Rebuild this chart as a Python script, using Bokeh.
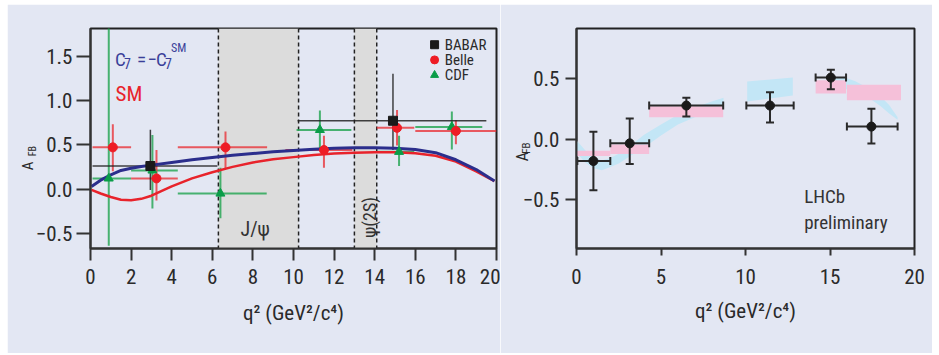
import math
from bokeh.plotting import figure
from bokeh.layouts import row
from bokeh.models import (Label, Range1d, ColumnDataSource, Whisker, TeeHead,
                          FixedTicker, Span, BoxAnnotation, LinearAxis)
from bokeh.core.properties import value
from bokeh.embed import file_html
from bokeh.resources import INLINE

# ---------------- data ----------------
# theory curves, left panel
q_curve = [0.05, 0.5, 1, 1.5, 2, 2.5, 3, 4, 5, 6, 7, 8, 9, 10, 11, 12, 13, 14,
           15, 16, 17, 18, 19, 19.9]
sm_afb = [-0.01, -0.05, -0.09, -0.12, -0.125, -0.11, -0.075, 0.03, 0.12, 0.19,
          0.25, 0.30, 0.335, 0.36, 0.385, 0.40, 0.41, 0.415, 0.415, 0.405, 0.375,
          0.31, 0.2, 0.09]
flip_afb = [0.03, 0.10, 0.16, 0.21, 0.235, 0.255, 0.27, 0.30, 0.33, 0.355,
            0.38, 0.40, 0.42, 0.435, 0.45, 0.46, 0.465, 0.465, 0.46, 0.445,
            0.41, 0.33, 0.22, 0.09]

babar_q = [2.95, 14.9]
babar_lo = [0.1, 10.2]
babar_hi = [6.25, 19.5]
babar_afb = [0.26, 0.77]
babar_ep = [0.41, 0.53]
babar_em = [0.27, 0.33]

belle_q = [1.1, 3.25, 6.65, 11.5, 15.1, 18.0]
belle_lo = [0.1, 2.0, 4.3, 9.6, 14.1, 16.0]
belle_hi = [2.0, 4.3, 8.7, 12.9, 15.95, 20.0]
belle_afb = [0.47, 0.12, 0.47, 0.44, 0.69, 0.655]
belle_ep = [0.26, 0.32, 0.18, 0.16, 0.20, 0.12]
belle_em = [0.27, 0.25, 0.24, 0.20, 0.20, 0.15]

cdf_q = [0.9, 3.05, 6.4, 11.3, 15.2, 17.8]
cdf_lo = [0.1, 2.0, 4.3, 10.15, 14.1, 16.0]
cdf_hi = [2.0, 4.3, 8.68, 12.85, 15.95, 19.3]
cdf_afb = [0.12, 0.21, -0.05, 0.667, 0.42, 0.70]
cdf_ep = [1.8, 0.40, 0.29, 0.22, 0.18, 0.175]
cdf_em = [0.76, 0.43, 0.28, 0.21, 0.16, 0.255]

veto_lo = [6.3, 13.0]
veto_hi = [10.25, 14.1]

# right panel
lhcb_q = [1.0, 3.15, 6.5, 11.45, 15.05, 17.45]
lhcb_lo = [0.05, 2.0, 4.3, 10.05, 14.15, 16.0]
lhcb_hi = [2.0, 4.3, 8.68, 12.85, 15.95, 19.0]
lhcb_afb = [-0.18, -0.035, 0.276, 0.276, 0.506, 0.103]
lhcb_ep = [0.24, 0.205, 0.065, 0.11, 0.065, 0.147]
lhcb_em = [0.24, 0.17, 0.09, 0.14, 0.095, 0.14]

smbin_lo = [0.0, 2.0, 4.3, 14.15, 16.0]
smbin_hi = [2.0, 4.3, 8.68, 15.95, 19.2]
smbin_bot = [-0.14, -0.122, 0.18, 0.376, 0.32]
smbin_top = [-0.095, -0.045, 0.27, 0.485, 0.447]

band1_q = [0.0, 0.5, 1.0, 1.5, 2.0, 2.5, 3.0, 3.5, 4.0, 5.0, 6.0, 7.0, 8.0, 8.7]
band1_lo = [-0.11, -0.19, -0.24, -0.257, -0.23, -0.20, -0.155, -0.11, -0.07,
            0.03, 0.12, 0.18, 0.23, 0.26]
band1_hi = [-0.01, -0.09, -0.15, -0.176, -0.155, -0.12, -0.07, -0.02, 0.035,
            0.12, 0.20, 0.26, 0.31, 0.34]
band2_q = [10.1, 12.8]
band2_lo = [0.31, 0.358]
band2_hi = [0.474, 0.506]
band3_q = [15.0, 16.0, 16.5, 17.0, 17.5, 18.0, 18.5, 19.0]
band3_lo = [0.43, 0.41, 0.39, 0.36, 0.32, 0.27, 0.21, 0.16]
band3_hi = [0.52, 0.50, 0.475, 0.44, 0.40, 0.35, 0.28, 0.18]

x_ticks_left = [0, 2, 4, 6, 8, 10, 12, 14, 16, 18, 20]
x_ticks_right = [0, 5, 10, 15, 20]
y_ticks_left = [-0.5, 0.0, 0.5, 1.0, 1.5]
y_ticks_right = [-0.5, 0.0, 0.5]
y_tick_text = {-0.5: "\u22120.5", 0.0: "0.0", 0.5: "0.5", 1.0: "1.0", 1.5: "1.5"}

# ---------------- style ----------------
FONT = "Liberation Sans Narrow, Roboto Condensed, Liberation Sans, sans-serif"
BG = "#e3e7f3"
TXT = "#2a2a2a"
NAVY = "#2b2e8c"
RED = "#e8232b"
GREEN = "#0a9d48"


def style_axes(p, xt, yt, xtick_len, ytick_len, xstand, ystand, lab_stand):
    p.xgrid.visible = False
    p.ygrid.visible = False
    p.background_fill_color = BG
    p.border_fill_color = BG
    p.outline_line_color = "#222222"
    p.outline_line_width = 2
    for ax, ticks, tl in ((p.xaxis[0], xt, xtick_len), (p.yaxis[0], yt, ytick_len)):
        ax.ticker = FixedTicker(ticks=ticks)
        ax.minor_tick_line_color = None
        ax.major_tick_in = 0
        ax.major_tick_out = tl
        ax.major_tick_line_width = 2
        ax.major_tick_line_color = "#333333"
        ax.axis_line_width = 2
        ax.axis_line_color = "#333333"
        ax.major_label_text_font = FONT
        ax.major_label_text_font_size = "21px"
        ax.major_label_text_color = TXT
        ax.axis_label_text_font = FONT
        ax.axis_label_text_font_size = "21px"
        ax.axis_label_text_font_style = "normal"
        ax.axis_label_text_color = TXT
    p.yaxis[0].major_label_overrides = {k: v for k, v in y_tick_text.items() if k in yt}
    p.xaxis[0].axis_label = "q\u00b2 (GeV\u00b2/c\u2074)"
    p.xaxis[0].major_label_standoff = xstand
    p.yaxis[0].major_label_standoff = ystand
    p.xaxis[0].axis_label_standoff = lab_stand


def screen_label(p, x, y, text, size, color, angle=0.0):
    p.add_layout(Label(x=x, y=y, x_units="screen", y_units="screen", text=text,
                       angle=angle, text_font=FONT, text_font_size=size,
                       text_color=color, text_baseline="alphabetic", text_align="left"))


def text_axis(at, text, size, standoff):
    # an axis with no line and no tick, used only to carry one rotated text
    return LinearAxis(ticker=FixedTicker(ticks=[at]), major_label_overrides={at: text},
                      major_label_orientation=math.pi / 2, major_tick_in=0, major_tick_out=0,
                      axis_line_color=None, major_tick_line_color=None,
                      minor_tick_line_color=None, major_label_standoff=standoff,
                      major_label_text_font=FONT, major_label_text_font_size=size,
                      major_label_text_color=TXT)


def afb_title(p, a_at, fb_at, a_size, fb_size, fb_stand, a_stand):
    p.left = [p.yaxis[0], text_axis(fb_at, "FB", fb_size, fb_stand),
              text_axis(a_at, "A", a_size, a_stand)]


# ---------------- left panel ----------------
p1 = figure(width=493, height=349, x_range=Range1d(0, 20), y_range=Range1d(-0.67, 1.81),
            output_backend="svg", toolbar_location=None,
            min_border_left=83, min_border_right=4, min_border_top=21, min_border_bottom=105)
p1.margin = (4, 0, 2, 7)
style_axes(p1, x_ticks_left, y_ticks_left, 12, 14, 8, 4, 14)

for lo, hi in zip(veto_lo, veto_hi):
    p1.add_layout(BoxAnnotation(left=lo, right=hi, fill_color="#dcdcdc", fill_alpha=1.0,
                                line_alpha=0, level="underlay"))
    for loc in (lo, hi):
        p1.add_layout(Span(location=loc, dimension="height", line_color="#222222",
                           line_width=1.5, line_dash="4 3", level="underlay"))


def xy_errors(p, q, lo, hi, y, ep, em, color, alpha, width):
    p.segment(x0=lo, x1=hi, y0=y, y1=y, line_color=color, line_alpha=alpha, line_width=width)
    p.segment(x0=q, x1=q, y0=[a - b for a, b in zip(y, em)], y1=[a + b for a, b in zip(y, ep)],
              line_color=color, line_alpha=alpha, line_width=width)


xy_errors(p1, cdf_q, cdf_lo, cdf_hi, cdf_afb, cdf_ep, cdf_em, "#1fa44f", 0.8, 2)
xy_errors(p1, belle_q, belle_lo, belle_hi, belle_afb, belle_ep, belle_em, "#e8343a", 0.8, 2)
xy_errors(p1, babar_q, babar_lo, babar_hi, babar_afb, babar_ep, babar_em, "#222222", 0.85, 1.5)

p1.line(q_curve, sm_afb, line_color=RED, line_width=2.5)
p1.line(q_curve, flip_afb, line_color=NAVY, line_width=3)

p1.scatter(cdf_q, cdf_afb, marker="triangle", size=9, fill_color=GREEN, line_color=GREEN)
p1.scatter(belle_q, belle_afb, marker="circle", size=9, fill_color="#ee1c25", line_color="#ee1c25")
p1.scatter(babar_q, babar_afb, marker="square", size=9, fill_color="#1a1a1a", line_color="#1a1a1a")

# manual legend (top right)
leg_names = ["BABAR", "Belle", "CDF"]
leg_markers = ["square", "circle", "triangle"]
leg_colors = ["#1a1a1a", "#ee1c25", GREEN]
leg_x, leg_y0, leg_dy = 16.95, 1.627, 0.171
for i, (nm, mk, cl) in enumerate(zip(leg_names, leg_markers, leg_colors)):
    yy = leg_y0 - i * leg_dy
    p1.scatter([leg_x], [yy], marker=mk, size=8, fill_color=cl, line_color=cl)
    p1.text(x=[leg_x + 0.5], y=[yy], text=[nm], text_font=value(FONT), text_font_size="15px",
            text_color=TXT, text_baseline="middle", text_align="left")

# curve labels
BLUE_TXT = "#3a3f99"
screen_label(p1, 24.5, 189.3, "C", "19px", BLUE_TXT)
screen_label(p1, 33.5, 185.3, "7", "14px", BLUE_TXT)
screen_label(p1, 46.5, 189.3, "=", "19px", BLUE_TXT)
screen_label(p1, 57, 189.3, "\u2212", "19px", BLUE_TXT)
screen_label(p1, 65.5, 189.3, "C", "19px", BLUE_TXT)
screen_label(p1, 74.5, 185.3, "7", "14px", BLUE_TXT)
screen_label(p1, 80.5, 200.7, "SM", "12px", BLUE_TXT)
screen_label(p1, 25, 155, "SM", "21px", RED)

p1.text(x=[7.39], y=[-0.448], text=["J/\u03c8"], text_font=value(FONT), text_font_size="20px",
        text_color="#333333", text_baseline="alphabetic", text_align="left")
p1.text(x=[13.74], y=[-0.548], text=["\u03c8(2S)"], angle=math.pi / 2, text_font=value(FONT),
        text_font_size="18px", text_color="#333333", text_baseline="alphabetic", text_align="left")

afb_title(p1, 0.31, 0.486, "15px", "10px", 0, -10)

# ---------------- right panel ----------------
p2 = figure(width=432, height=349, x_range=Range1d(0, 20), y_range=Range1d(-0.9, 0.91),
            output_backend="svg", toolbar_location=None,
            min_border_left=75, min_border_right=18, min_border_top=24, min_border_bottom=102)
p2.margin = (4, 7, 2, 0)
style_axes(p2, x_ticks_right, y_ticks_right, 7, 11, 13, 6, 12)

BAND = "#c3e6f6"
p2.varea(x=band1_q, y1=band1_lo, y2=band1_hi, fill_color=BAND)
p2.varea(x=band2_q, y1=band2_lo, y2=band2_hi, fill_color=BAND)
p2.varea(x=band3_q, y1=band3_lo, y2=band3_hi, fill_color=BAND)

p2.quad(left=smbin_lo, right=smbin_hi, bottom=smbin_bot, top=smbin_top,
        fill_color="#f5c0d9", line_alpha=0)

src = ColumnDataSource(dict(q=lhcb_q, lo=lhcb_lo, hi=lhcb_hi, y=lhcb_afb,
                            up=[a + b for a, b in zip(lhcb_afb, lhcb_ep)],
                            dn=[a - b for a, b in zip(lhcb_afb, lhcb_em)]))
ECOL = "#2a2a2a"
p2.add_layout(Whisker(source=src, base="q", upper="up", lower="dn", dimension="height",
                      line_color=ECOL, line_width=2, level="glyph",
                      upper_head=TeeHead(size=8, line_color=ECOL, line_width=2),
                      lower_head=TeeHead(size=8, line_color=ECOL, line_width=2)))
p2.add_layout(Whisker(source=src, base="y", upper="hi", lower="lo", dimension="width",
                      line_color=ECOL, line_width=2, level="glyph",
                      upper_head=TeeHead(size=8, line_color=ECOL, line_width=2),
                      lower_head=TeeHead(size=8, line_color=ECOL, line_width=2)))
p2.scatter("q", "y", source=src, marker="circle", size=9, fill_color="#1a1a1a",
           line_color="#1a1a1a", level="overlay")

p2.text(x=[13.47, 13.47], y=[-0.474, -0.683], text=["LHCb", "preliminary"],
        text_font=value(FONT), text_font_size="19px", text_color="#333333",
        text_baseline="alphabetic", text_align="left")

afb_title(p2, -0.106, -0.028, "16px", "11px", -7, -12)

layout = row(p1, p2)
open("out.html", "w").write(file_html(layout, INLINE))
